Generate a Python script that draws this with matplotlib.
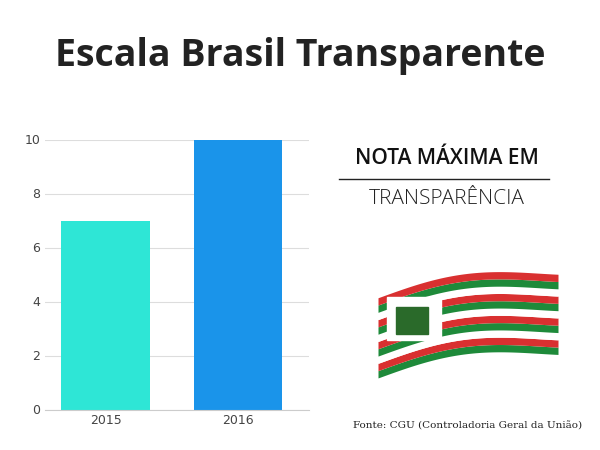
import matplotlib
matplotlib.use("Agg")
import matplotlib.pyplot as plt
from matplotlib.patches import FancyBboxPatch
import numpy as np

years = ["2015", "2016"]
scores = [7, 10]
colors = ["#2ee6d6", "#1a94ea"]
yticks = [0, 2, 4, 6, 8, 10]

fig = plt.figure(figsize=(6, 4.5), dpi=100)
fig.patch.set_facecolor("white")
fig.text(0.5, 0.875, "Escala Brasil Transparente", ha="center", va="center",
         fontsize=27, fontweight="bold", family="Open Sans", color="#222222")

ax = fig.add_axes([0.075, 0.09, 0.44, 0.6])
bars = ax.bar(range(len(years)), scores, width=0.67, color=colors)
ax.set_xticks(range(len(years)))
ax.set_xticklabels(years)
ax.set_yticks(yticks)
ax.set_ylim(0, 10)
ax.set_xlim(-0.46, 1.54)
ax.grid(axis="y", color="#dddddd", lw=0.8)
ax.set_axisbelow(True)
for s in ["top", "right", "left"]:
    ax.spines[s].set_visible(False)
ax.spines["bottom"].set_color("#cccccc")
ax.tick_params(length=0, labelsize=9, colors="#444444")

fig.text(0.745, 0.648, "NOTA MÁXIMA EM", ha="center", va="center",
         fontsize=15, family="Open Sans", fontweight="semibold", color="#111111")
fig.add_artist(plt.Line2D([0.565, 0.915], [0.603, 0.603], color="#222222", lw=1))
fig.text(0.745, 0.557, "TRANSPARÊNCIA", ha="center", va="center",
         fontsize=15, family="Open Sans", fontweight="light", color="#222222")

# flag illustration
fa = fig.add_axes([0.63, 0.15, 0.3, 0.27])
fa.axis("off")
fa.set_xlim(0, 1); fa.set_ylim(0, 1)
t = np.linspace(0, 1, 60)
n = 11
for i in range(n):
    c = "#1e8a3a" if i % 3 == 0 else ("#d93030" if i % 3 == 1 else "white")
    y0 = 0.05 + i * 0.08
    top = y0 + 0.08 + 0.12 * np.sin(t * 3.5) + 0.3 * t
    bot = y0 + 0.12 * np.sin(t * 3.5) + 0.3 * t
    fa.fill_between(t, bot * 0.75, top * 0.75, color=c, lw=0)
fa.add_patch(plt.Rectangle((0.05, 0.35), 0.3, 0.35, color="white"))
fa.add_patch(plt.Rectangle((0.1, 0.4), 0.18, 0.22, color="#2a6a2a"))

fig.text(0.78, 0.053, "Fonte: CGU (Controladoria Geral da União)", ha="center",
         va="center", fontsize=7.5, family="DejaVu Serif", color="#222222")

fig.savefig("out.png", dpi=100)
